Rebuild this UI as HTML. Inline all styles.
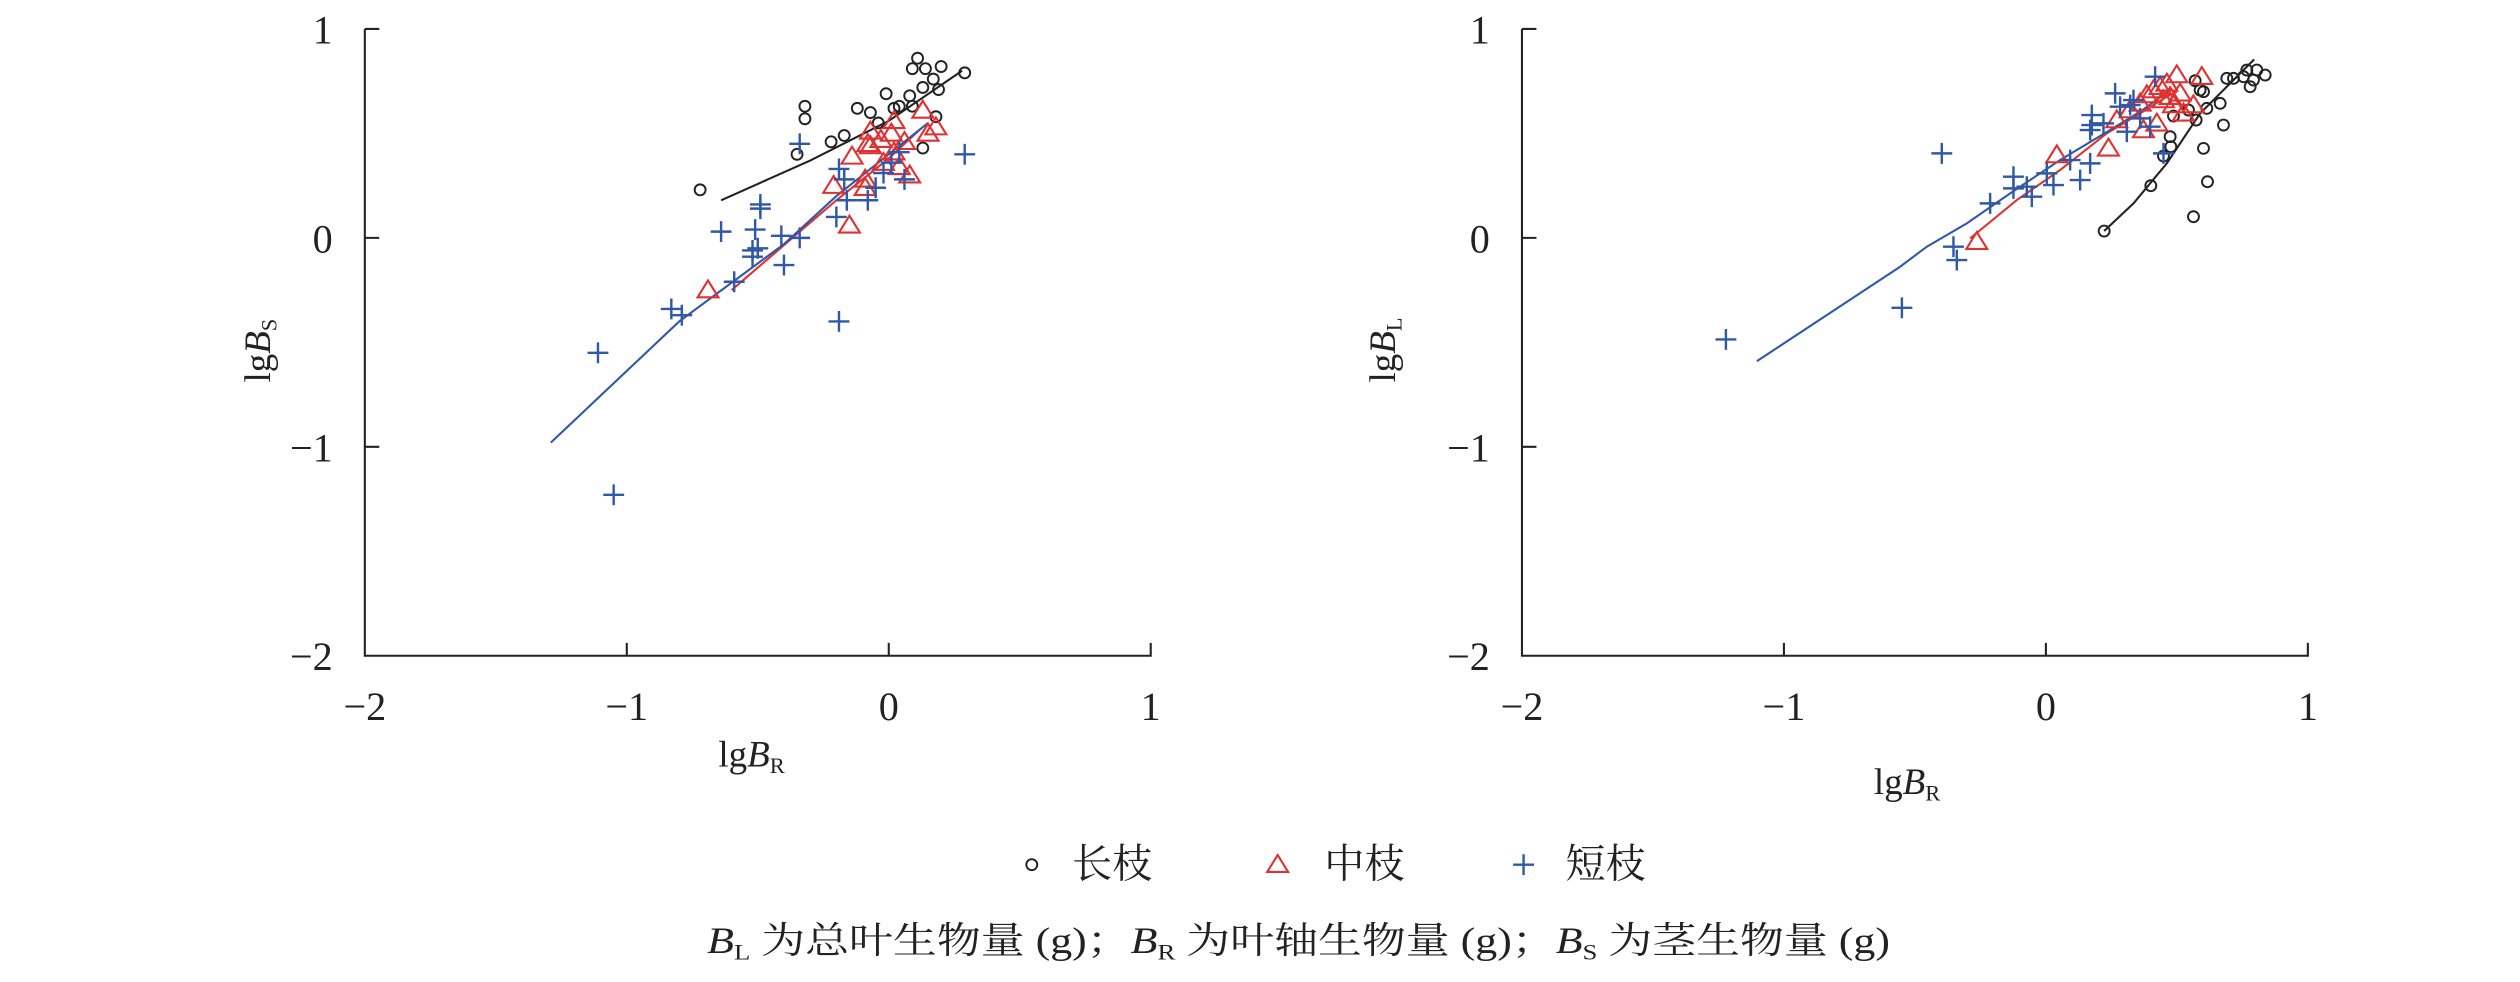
<!DOCTYPE html>
<html><head><meta charset="utf-8"><style>
html,body{margin:0;padding:0;background:#fff;}
svg{display:block}
text{font-family:"Liberation Serif","Noto Serif CJK SC",serif;fill:#222}
</style></head><body>
<svg id="s" width="2520" height="982" viewBox="0 0 1568 611" xmlns="http://www.w3.org/2000/svg">
<g stroke="#222" stroke-width="1.3" fill="none">
<path d="M227,18 H236 M227,18 V408 H716 V400 M227,148 H236 M227,278 H236 M390,408 V400 M553,408 V400"/>
<path d="M947,18 H956 M947,18 V408 H1436 V400 M947,148 H956 M947,278 H956 M1110,408 V400 M1273,408 V400"/>
</g>
<g font-size="25" text-anchor="end">
<text x="207" y="27">1</text><text x="207" y="157">0</text><text x="207" y="287">−1</text><text x="207" y="417">−2</text>
<text x="927" y="27">1</text><text x="927" y="157">0</text><text x="927" y="287">−1</text><text x="927" y="417">−2</text>
</g>
<g font-size="25" text-anchor="middle">
<text x="227" y="448">−2</text><text x="390" y="448">−1</text><text x="553" y="448">0</text><text x="716" y="448">1</text>
<text x="947" y="448">−2</text><text x="1110" y="448">−1</text><text x="1273" y="448">0</text><text x="1436" y="448">1</text>
</g>
<text x="447" y="477" font-size="23">lg<tspan font-style="italic">B</tspan><tspan font-size="14" dy="4">R</tspan></text>
<text x="1166" y="494" font-size="23">lg<tspan font-style="italic">B</tspan><tspan font-size="14" dy="4">R</tspan></text>
<text transform="translate(168,238) rotate(-90)" font-size="23">lg<tspan font-style="italic">B</tspan><tspan font-size="14" dy="4">S</tspan></text>
<text transform="translate(868,238) rotate(-90)" font-size="23">lg<tspan font-style="italic">B</tspan><tspan font-size="14" dy="4">L</tspan></text>
<g id="plots"></g>
<g id="leg"></g>
<text x="667" y="546" font-size="25">长枝</text>
<text x="824" y="546" font-size="25">中枝</text>
<text x="974" y="546" font-size="25">短枝</text>
<text x="440" y="593" font-size="23" textLength="736" lengthAdjust="spacingAndGlyphs"><tspan font-style="italic">B</tspan><tspan font-size="14" dy="4">L</tspan><tspan dy="-4"> 为总叶生物量 (g)；</tspan><tspan font-style="italic">B</tspan><tspan font-size="14" dy="4">R</tspan><tspan dy="-4"> 为叶轴生物量 (g)；</tspan><tspan font-style="italic">B</tspan><tspan font-size="14" dy="4">S</tspan><tspan dy="-4"> 为茎生物量 (g)</tspan></text>
</svg>
<script>
var NS="http://www.w3.org/2000/svg",g=document.getElementById("plots"),lg=document.getElementById("leg");
function el(p,t,a){var e=document.createElementNS(NS,t);for(var k in a)e.setAttribute(k,a[k]);p.appendChild(e);return e;}
function circ(p,x,y){el(p,"circle",{cx:x,cy:y,r:3.4,fill:"none",stroke:"#222","stroke-width":1.2});}
function tri(p,x,y){el(p,"path",{d:"M"+x+","+(y-6)+" L"+(x+6.5)+","+(y+4.5)+" L"+(x-6.5)+","+(y+4.5)+"Z",fill:"none",stroke:"#e03030","stroke-width":1.3});}
function plus(p,x,y){el(p,"path",{d:"M"+(x-6.5)+","+y+" H"+(x+6.5)+" M"+x+","+(y-6.5)+" V"+(y+6.5),fill:"none",stroke:"#2f58a8","stroke-width":1.5});}
function line(p,pts,c){el(p,"polyline",{points:pts.map(function(q){return q.join(",")}).join(" "),fill:"none",stroke:c,"stroke-width":1.3});}
function L(x,y){return [553+x*163,148-y*130];}
function Z(q){return [1182.3+q[0]/4.821,18.67+q[1]/4.821];}
// left plot
line(g,[[-0.64,0.18],[-0.3,0.37],[0,0.56],[0.28,0.8]].map(function(q){return L(q[0],q[1])}),"#222");
line(g,[[-0.6,-0.25],[-0.2,0.18],[0,0.38],[0.12,0.52]].map(function(q){return L(q[0],q[1])}),"#e03030");
line(g,[[-1.29,-0.98],[-0.8,-0.4],[-0.4,-0.03],[-0.2,0.2],[0,0.4],[0.15,0.55]].map(function(q){return L(q[0],q[1])}),"#2f58a8");
[[-0.72,0.23],[-0.32,0.63],[-0.32,0.57],[-0.35,0.4],[-0.22,0.46],[-0.17,0.49],[-0.12,0.62],[-0.07,0.6],[-0.01,0.69],[0.02,0.62],[0.04,0.63],[0.08,0.68],[0.11,0.86],[0.09,0.81],[0.14,0.81],[0.2,0.82],[0.17,0.76],[0.13,0.72],[0.19,0.71],[0.29,0.79],[0.18,0.58],[0.13,0.43],[-0.04,0.55],[0.09,0.63]].forEach(function(q){var p=L(q[0],q[1]);circ(g,p[0],p[1]);});
[[-0.69,-0.25],[-0.15,0.06],[-0.21,0.25],[-0.14,0.39],[-0.09,0.28],[-0.07,0.51],[-0.07,0.44],[-0.03,0.47],[0.02,0.56],[0.13,0.61],[0.18,0.53],[0.15,0.5],[0.08,0.3],[0.02,0.41],[-0.02,0.36],[0.04,0.34],[-0.09,0.24],[0.01,0.5],[0.06,0.46],[-0.08,0.45]].forEach(function(q){var p=L(q[0],q[1]);tri(g,p[0],p[1]);});
[[-1.11,-0.55],[-1.05,-1.23],[-0.83,-0.34],[-0.79,-0.37],[-0.64,0.03],[-0.51,0.04],[-0.49,0.16],[-0.49,0.14],[-0.52,-0.06],[-0.52,-0.09],[-0.5,-0.05],[-0.59,-0.21],[-0.41,0.01],[-0.4,-0.13],[-0.34,0],[-0.34,0.45],[-0.19,-0.4],[-0.2,0.1],[-0.19,0.33],[-0.17,0.28],[-0.16,0.18],[-0.08,0.18],[-0.05,0.24],[-0.02,0.31],[0.06,0.28],[0.04,0.41],[0.29,0.4],[0.01,0.36]].forEach(function(q){var p=L(q[0],q[1]);plus(g,p[0],p[1]);});
// right plot
line(g,[[612,603],[700,520],[800,400],[900,250],[1000,150],[1062,88]].map(Z),"#222");
line(g,[[210,625],[350,510],[480,420],[620,310],[720,250],[800,200],[830,185]].map(Z),"#e03030");
line(g,[[1093.2,224.7]].concat([[0,710],[80,650],[200,580],[330,490],[480,390],[630,300],[720,245],[810,180]].map(Z)),"#2f58a8");
[[612,603],[752,467],[880,560],[922,455],[910,355],[970,285],[810,320],[812,350],[790,378],[888,270],[960,220],[920,235],[865,240],[900,180],[910,185],[885,152],[980,145],[1000,145],[1040,120],[1050,170],[1060,150],[1095,135],[1070,120],[1030,140],[820,258]].map(Z).forEach(function(q){circ(g,q[0],q[1]);});
[[230,635],[470,375],[625,355],[690,240],[720,220],[740,195],[760,180],[780,170],[800,160],[830,135],[905,140],[840,190],[820,225],[850,250],[880,225],[730,300],[770,280],[790,210],[810,200],[650,270]].map(Z).forEach(function(q){tri(g,q[0],q[1]);});
[[1073.9,211.2],[1183.4,191.5]].concat([[125,370],[160,650],[170,690],[270,520],[340,440],[340,475],[380,470],[395,500],[440,430],[460,465],[540,450],[570,400],[510,390],[575,255],[575,285],[570,300],[645,190],[660,230],[690,225],[680,305],[750,290],[765,140],[790,370],[720,265],[700,210],[610,280]].map(Z)).forEach(function(q){plus(g,q[0],q[1]);});
// legend
circ(lg,642,538);tri(lg,795,538);plus(lg,948,538);
</script>
</body></html>
